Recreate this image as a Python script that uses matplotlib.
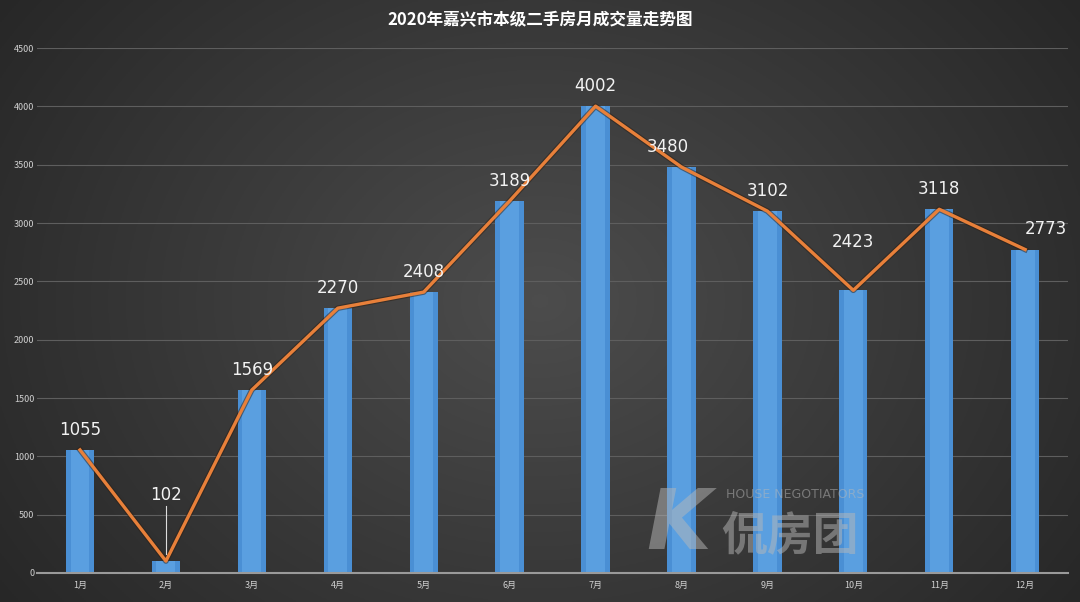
import matplotlib.pyplot as plt
import numpy as np

plt.rcParams['font.family'] = ['Noto Sans CJK SC', 'DejaVu Sans']

# 2020 monthly second-hand house deals, Jiaxing
months = ['1月', '2月', '3月', '4月', '5月', '6月', '7月', '8月', '9月', '10月', '11月', '12月']
deals = [1055, 102, 1569, 2270, 2408, 3189, 4002, 3480, 3102, 2423, 3118, 2773]
yticks = [0, 500, 1000, 1500, 2000, 2500, 3000, 3500, 4000, 4500]

fig = plt.figure(figsize=(10.8, 6.02), dpi=100)

# dark radial background
bg = fig.add_axes([0, 0, 1, 1], zorder=-10)
yy, xx = np.mgrid[-1:1:300j, -1:1:540j]
r = np.clip(np.sqrt(xx ** 2 + (yy * 0.7) ** 2), 0, 1.2)
g = 0.30 - 0.12 * r
bg.imshow(np.dstack([g, g, g]), aspect='auto', extent=[0, 1, 0, 1])
bg.axis('off')

ax = fig.add_axes([0.0343, 0.0482, 0.9547, 0.872])
ax.patch.set_alpha(0)
x = np.arange(len(months))

ax.bar(x, deals, width=0.33, color='#4a8fd4', zorder=2)
ax.bar(x, deals, width=0.22, color='#5a9fe0', zorder=2)
# line with dark shadow
ax.plot(x, deals, color='#2a1d12', lw=4, alpha=0.5, zorder=3)
ax.plot(x, deals, color='#e8803a', lw=2.4, zorder=4)

# label offsets in points (dx, dy)
offs = {1: (0, 33), 7: (-10, 0), 9: (0, 20), 11: (15, 0)}
for i, v in enumerate(deals):
    dx, dy = offs.get(i, (0, 0))
    ax.annotate(str(v), (i, v), xytext=(dx, 8 + dy), textcoords='offset points',
                ha='center', va='bottom', color='#f2f2f2', fontsize=12,
                family=['DejaVu Sans'], zorder=5)
# leader line for Feb
ax.plot([1, 1], [deals[1] + 60, deals[1] + 470], color='#dddddd', lw=0.8, zorder=5)

ax.set_xlim(-0.5, len(months) - 0.5)
ax.set_ylim(0, 4500)
ax.set_yticks(yticks)
ax.set_xticks(x)
ax.set_xticklabels(months)
ax.tick_params(colors='#d0d0d0', labelsize=6.5, length=0, pad=6)
ax.tick_params(axis='y', pad=2)
ax.grid(axis='y', color='#5e5e5e', lw=0.8, zorder=0)
ax.set_axisbelow(True)
for s in ['top', 'right', 'left']:
    ax.spines[s].set_visible(False)
ax.spines['bottom'].set_color('#9a9a9a')
ax.spines['bottom'].set_linewidth(1.5)

fig.text(0.5, 0.967, '2020年嘉兴市本级二手房月成交量走势图', ha='center', va='center',
         color='white', fontsize=12, fontweight='bold')

# watermark
fig.text(0.598, 0.088, 'K', color='#b8b8b8', alpha=0.5, fontsize=60,
         fontweight='bold', style='italic', family=['DejaVu Sans'], zorder=6)
fig.text(0.672, 0.172, 'HOUSE NEGOTIATORS', color='#b8b8b8', alpha=0.5,
         fontsize=9, family=['DejaVu Sans'], zorder=6)
fig.text(0.668, 0.088, '侃房团', color='#b8b8b8', alpha=0.5, fontsize=33,
         fontweight='bold', zorder=6)

fig.savefig('out.png', dpi=100)
